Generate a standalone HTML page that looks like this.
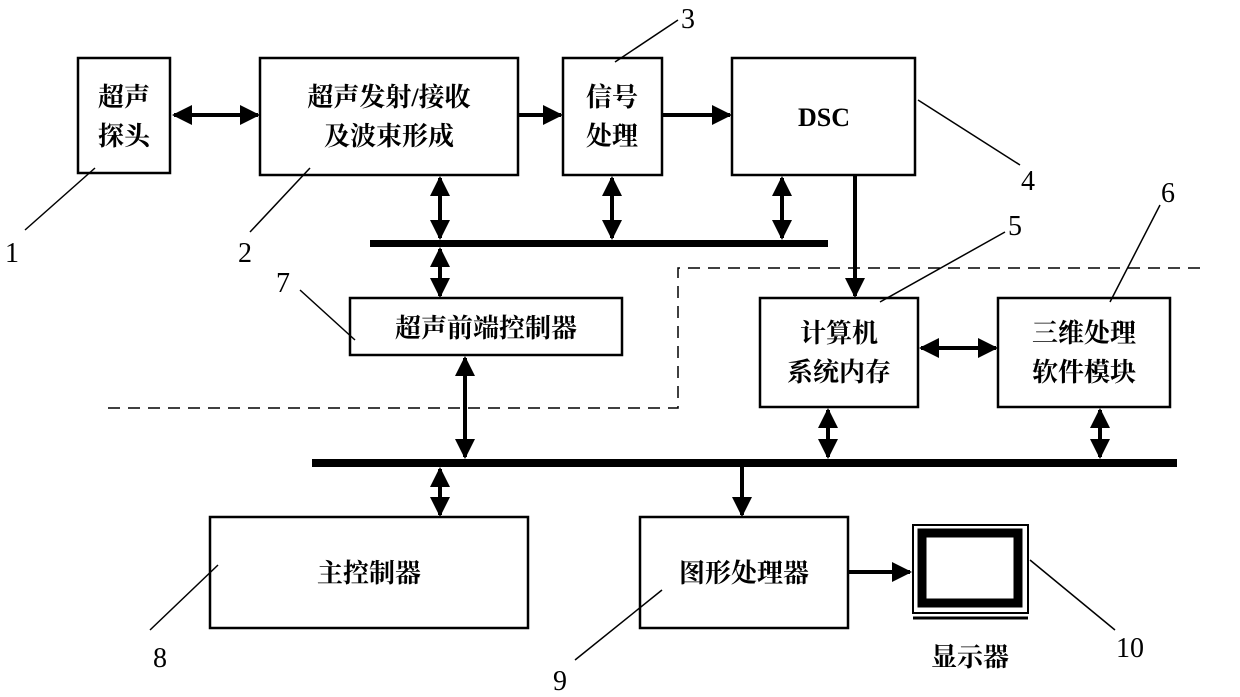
<!DOCTYPE html><html><head><style>body{margin:0;background:#fff}svg{display:block}text{font-family:"Liberation Serif","Noto Serif CJK SC",serif;fill:#000}.b text{font-weight:bold}.n text{font-weight:normal}</style></head><body>
<svg width="1240" height="697" viewBox="0 0 1240 697" xmlns="http://www.w3.org/2000/svg">
<defs><marker id="a" viewBox="0 0 10 10" refX="9" refY="5" markerWidth="5" markerHeight="5" orient="auto-start-reverse"><path d="M0,0L10,5L0,10z"/></marker></defs>
<g fill="none" stroke="#000" stroke-width="2.5">
<rect x="78" y="58" width="92" height="115"/><rect x="260" y="58" width="258" height="117"/><rect x="563" y="58" width="99" height="117"/><rect x="732" y="58" width="183" height="117"/>
<rect x="350" y="298" width="272" height="57"/><rect x="760" y="298" width="158" height="109"/><rect x="998" y="298" width="172" height="109"/>
<rect x="210" y="517" width="318" height="111"/><rect x="640" y="517" width="208" height="111"/>
<rect x="913" y="525" width="115" height="88" stroke-width="2"/>
</g>
<rect x="922" y="533" width="96" height="70" fill="none" stroke="#000" stroke-width="9"/>
<line x1="913" y1="618" x2="1028" y2="618" stroke="#000" stroke-width="3"/>
<path d="M108,408H678V268H1200" fill="none" stroke="#000" stroke-width="1.5" stroke-dasharray="12,8"/>
<rect x="370" y="240" width="458" height="7"/><rect x="312" y="459" width="865" height="8"/>
<g stroke="#000" stroke-width="4" marker-end="url(#a)" fill="none">
<line x1="174" y1="115" x2="258" y2="115" marker-start="url(#a)"/>
<line x1="518" y1="115" x2="561" y2="115"/>
<line x1="662" y1="115" x2="730" y2="115"/>
<line x1="440" y1="178" x2="440" y2="238" marker-start="url(#a)"/>
<line x1="612" y1="178" x2="612" y2="238" marker-start="url(#a)"/>
<line x1="782" y1="178" x2="782" y2="238" marker-start="url(#a)"/>
<line x1="440" y1="249" x2="440" y2="296" marker-start="url(#a)"/>
<line x1="855" y1="175" x2="855" y2="296"/>
<line x1="921" y1="348" x2="996" y2="348" marker-start="url(#a)"/>
<line x1="465" y1="358" x2="465" y2="457" marker-start="url(#a)"/>
<line x1="828" y1="410" x2="828" y2="457" marker-start="url(#a)"/>
<line x1="1100" y1="410" x2="1100" y2="457" marker-start="url(#a)"/>
<line x1="440" y1="469" x2="440" y2="515" marker-start="url(#a)"/>
<line x1="742" y1="467" x2="742" y2="515"/>
<line x1="848" y1="572" x2="910" y2="572"/>
</g>
<g stroke="#000" stroke-width="1.5">
<line x1="95" y1="168" x2="25" y2="230"/><line x1="310" y1="168" x2="250" y2="232"/><line x1="615" y1="62" x2="678" y2="20"/>
<line x1="918" y1="100" x2="1020" y2="165"/><line x1="880" y1="302" x2="1005" y2="232"/><line x1="1110" y1="302" x2="1160" y2="205"/>
<line x1="300" y1="290" x2="355" y2="340"/><line x1="218" y1="565" x2="150" y2="630"/><line x1="662" y1="590" x2="575" y2="660"/><line x1="1030" y1="560" x2="1115" y2="630"/>
</g>
<g class="b" font-size="26" text-anchor="middle">
<text x="124" y="106">超声</text><text x="124" y="145">探头</text>
<text x="389" y="106">超声发射/接收</text><text x="389" y="145">及波束形成</text>
<text x="612" y="106">信号</text><text x="612" y="145">处理</text>
<text x="824" y="126">DSC</text>
<text x="486" y="337">超声前端控制器</text>
<text x="839" y="342">计算机</text><text x="839" y="381">系统内存</text>
<text x="1084" y="342">三维处理</text><text x="1084" y="381">软件模块</text>
<text x="369" y="582">主控制器</text><text x="744" y="582">图形处理器</text>
<text x="970" y="666">显示器</text>
</g>
<g class="n" font-size="28" text-anchor="middle">
<text x="12" y="262">1</text><text x="245" y="262">2</text><text x="688" y="28">3</text><text x="1028" y="190">4</text>
<text x="1015" y="235">5</text><text x="1168" y="202">6</text><text x="283" y="292">7</text><text x="160" y="667">8</text>
<text x="560" y="690">9</text><text x="1130" y="657">10</text>
</g>
</svg></body></html>
